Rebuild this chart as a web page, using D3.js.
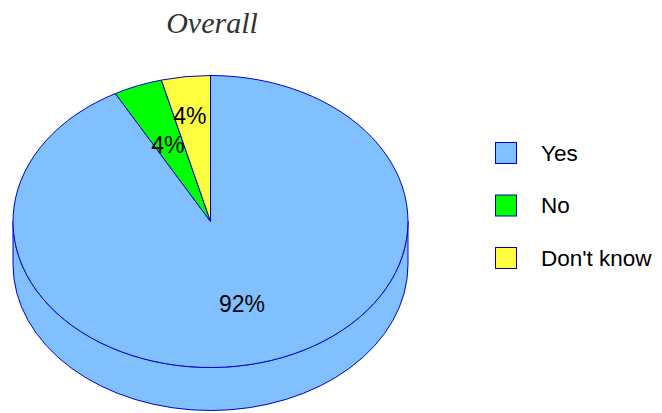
<!DOCTYPE html>
<html>
<head>
<meta charset="utf-8">
<script src="https://cdn.jsdelivr.net/npm/d3@7"></script>
<style>
  html, body { margin: 0; padding: 0; background: #ffffff; }
  svg { display: block; }
</style>
</head>
<body>
<svg id="chart" width="662" height="413"></svg>
<script>
// Survey answers, overall share in percent
const categories = ["Yes", "No", "Don't know"];
const values = [92, 4, 4];
const colors = ["#80c0ff", "#00ff00", "#ffff40"];
const title = "Overall";

const cx = 210.5, cy = 221.5;   // centre of the top face
const rx = 197.5, ry = 146;     // ellipse radii of the tilted disc
const depth = 43;               // thickness of the disc
const edge = "#0000cc";

// label placement as fractions of rx / ry, per slice
const labelFrac = [[0.64, 0.58], [0.585, 0.563], [0.83, 0.73]];

const svg = d3.select("#chart");

svg.append("text")
  .attr("x", 212).attr("y", 33)
  .attr("text-anchor", "middle")
  .style("font-family", "'Liberation Serif', 'DejaVu Serif', serif")
  .style("font-style", "italic")
  .style("font-size", "30px")
  .style("fill", "#333")
  .text(title);

const pie = d3.pie().sort(null).value(d => d)(values);

// angle measured clockwise from 12 o'clock
const pt = (a, fx = 1, fy = 1) => [cx + fx * rx * Math.sin(a), cy - fy * ry * Math.cos(a)];

// front wall of the disc (only the lower half is visible)
const wallD = `M${cx - rx},${cy} L${cx - rx},${cy + depth} ` +
  `A${rx},${ry} 0 0 0 ${cx + rx},${cy + depth} L${cx + rx},${cy} ` +
  `A${rx},${ry} 0 0 1 ${cx - rx},${cy} Z`;

// colour of the wall follows whichever slice covers the front half
const frontSlice = pie.find(p => p.startAngle <= Math.PI && p.endAngle >= Math.PI);
svg.append("path")
  .attr("d", wallD)
  .attr("fill", colors[frontSlice.index])
  .attr("stroke", edge)
  .attr("stroke-width", 1);

// top face sectors
svg.append("g").selectAll("path")
  .data(pie)
  .join("path")
  .attr("d", p => {
    const [x0, y0] = pt(p.startAngle);
    const [x1, y1] = pt(p.endAngle);
    const large = (p.endAngle - p.startAngle) > Math.PI ? 1 : 0;
    return `M${cx},${cy} L${x0},${y0} A${rx},${ry} 0 ${large} 1 ${x1},${y1} Z`;
  })
  .attr("fill", (p, i) => colors[i])
  .attr("stroke", edge)
  .attr("stroke-width", 1)
  .attr("stroke-linejoin", "round");

// percentage labels
svg.append("g").selectAll("text")
  .data(pie)
  .join("text")
  .attr("x", (p, i) => pt((p.startAngle + p.endAngle) / 2, labelFrac[i][0], labelFrac[i][1])[0])
  .attr("y", (p, i) => pt((p.startAngle + p.endAngle) / 2, labelFrac[i][0], labelFrac[i][1])[1])
  .attr("text-anchor", "middle")
  .attr("dominant-baseline", "central")
  .style("font-family", "'Liberation Sans', Arial, sans-serif")
  .style("font-size", "23px")
  .style("fill", "#000")
  .text(p => p.data + "%");

// legend
const legend = svg.append("g").selectAll("g")
  .data(categories)
  .join("g")
  .attr("transform", (d, i) => `translate(495,${142 + i * 52.5})`);

legend.append("rect")
  .attr("x", 0.5).attr("y", 0.5)
  .attr("width", 21).attr("height", 21)
  .attr("fill", (d, i) => colors[i])
  .attr("stroke", edge)
  .attr("stroke-width", 1);

legend.append("text")
  .attr("x", 46).attr("y", 11)
  .attr("dominant-baseline", "central")
  .style("font-family", "'Liberation Sans', Arial, sans-serif")
  .style("font-size", "22.5px")
  .style("fill", "#000")
  .text(d => d);
</script>
</body>
</html>
